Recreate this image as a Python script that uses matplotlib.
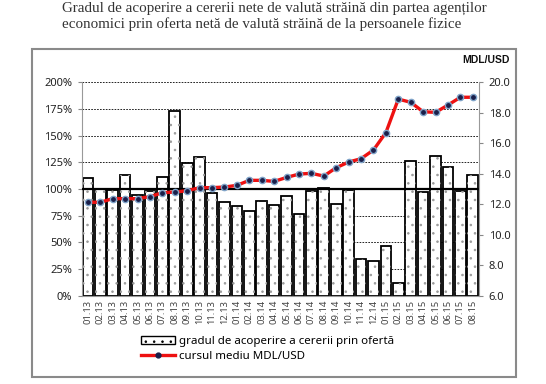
import matplotlib.pyplot as plt
from matplotlib.lines import Line2D
from matplotlib.patches import Patch, Rectangle

months = ["01.13", "02.13", "03.13", "04.13", "05.13", "06.13", "07.13", "08.13",
          "09.13", "10.13", "11.13", "12.13", "01.14", "02.14", "03.14", "04.14",
          "05.14", "06.14", "07.14", "08.14", "09.14", "10.14", "11.14", "12.14",
          "01.15", "02.15", "03.15", "04.15", "05.15", "06.15", "07.15", "08.15"]

# coverage ratio, %
coverage = [110, 100, 99, 113, 94, 98, 111, 173,
            124, 130, 96, 88, 84, 79, 89, 85,
            93, 77, 98, 101, 86, 99, 34, 33,
            47, 12, 126, 97, 131, 121, 98, 113]

# average MDL/USD rate
rate = [12.13, 12.13, 12.37, 12.37, 12.37, 12.50, 12.76, 12.80,
        12.89, 13.09, 13.09, 13.13, 13.24, 13.57, 13.57, 13.50,
        13.76, 13.98, 14.03, 13.85, 14.40, 14.77, 14.99, 15.56,
        16.70, 18.90, 18.69, 18.07, 18.03, 18.51, 19.02, 19.02]

left_ticks = [0, 25, 50, 75, 100, 125, 150, 175, 200]
right_ticks = [6, 8, 10, 12, 14, 16, 18, 20]

title = ("Gradul de acoperire a cererii nete de valută străină din partea agenților\n"
         "economici prin oferta netă de valută străină de la persoanele fizice")

plt.rcParams["font.family"] = ["Noto Sans", "DejaVu Sans"]
plt.rcParams["hatch.linewidth"] = 0.6

fig = plt.figure(figsize=(5.46, 3.84), dpi=100)
ax = fig.add_axes([0.1496, 0.2299, 0.7277, 0.5557])
x = range(len(months))

# grid behind bars
for t in left_ticks[1:]:
    if t != 100:
        ax.axhline(t, color="black", lw=0.6, ls=(0, (2, 1.5)), zorder=0)

ax.bar(x, coverage, width=0.86, color="white", edgecolor="black", linewidth=1.3, zorder=2)
ax.bar(x, coverage, width=0.86, color="none", edgecolor="#9a9a9a", hatch="..",
       linewidth=0, zorder=2.1)
ax.axhline(100, color="black", lw=1.6, zorder=3)

ax.set_xlim(-0.5, len(months) - 0.5)
ax.set_ylim(0, 200)
ax.set_yticks(left_ticks)
ax.set_yticklabels([f"{t}%" for t in left_ticks], fontsize=8, color="#222222")
ax.set_xticks(list(x))
ax.set_xticklabels(months, rotation=90, fontsize=6.8, color="#444444")
ax.tick_params(axis="x", length=0, pad=3)
ax.tick_params(axis="y", length=3, color="#888888", pad=4)
for side in ["top", "right"]:
    ax.spines[side].set_visible(False)
ax.spines["left"].set_color("#999999")
ax.spines["bottom"].set_color("#999999")

ax2 = ax.twinx()
ax2.plot(x, rate, color="#ee1111", lw=2.4, marker="o", markersize=4.5,
         markerfacecolor="#1a1f4a", markeredgecolor="#7fa3c8", markeredgewidth=1.0,
         zorder=5)
ax2.set_ylim(6, 20)
ax2.set_yticks(right_ticks)
ax2.set_yticklabels([f"{t:.1f}" for t in right_ticks], fontsize=8, color="#222222")
ax2.tick_params(axis="y", length=3, color="#888888", pad=4)
for side in ["top", "left", "bottom"]:
    ax2.spines[side].set_visible(False)
ax2.spines["right"].set_color("#999999")
ax2.set_zorder(ax.get_zorder() + 1)
ax2.patch.set_visible(False)

fig.text(0.1136, 0.995, title, ha="left", va="top", fontsize=10.8,
         family=["Liberation Serif", "DejaVu Serif"], color="#333333", linespacing=1.2)
fig.text(0.934, 0.844, "MDL/USD", ha="right", va="center", fontsize=7.5,
         fontweight="bold", family=["Liberation Sans", "DejaVu Sans"], color="#111111")

fig.patches.append(Rectangle((0.058, 0.018), 0.887, 0.854, transform=fig.transFigure,
                             fill=False, edgecolor="#8a8a8a", lw=1.5))

handles = [Patch(facecolor="white", edgecolor="black", hatch="..", linewidth=1.0),
           Line2D([], [], color="#ee1111", lw=2.4, marker="o", markersize=3.5,
                  markerfacecolor="#1a1f4a", markeredgecolor="#1a1f4a")]
labels = ["gradul de acoperire a cererii prin ofertă", "cursul mediu MDL/USD"]
fig.legend(handles, labels, loc="upper left", bbox_to_anchor=(0.258, 0.125),
           frameon=False, fontsize=8.3, handlelength=3.0, handleheight=0.6,
           handletextpad=0.3, labelspacing=0.35, borderpad=0, borderaxespad=0)

fig.savefig("out.png", dpi=100)
